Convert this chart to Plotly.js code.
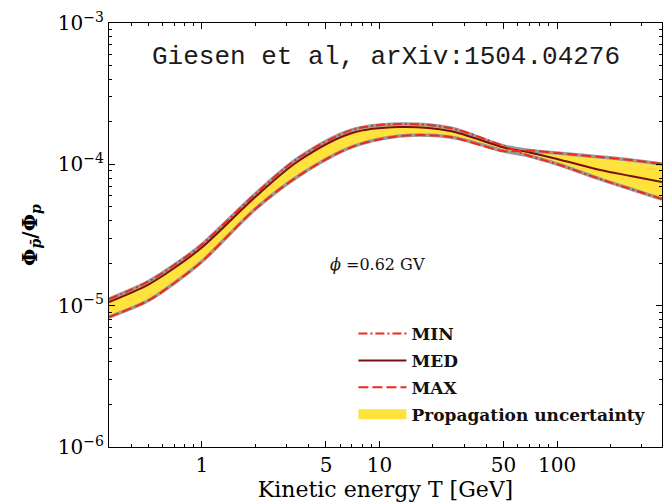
<!DOCTYPE html>
<html>
<head>
<meta charset="utf-8">
<script src="https://cdn.plot.ly/plotly-3.0.1.min.js"></script>
<style>
  html, body { margin: 0; padding: 0; background: #fff; }
  #chart { width: 663px; height: 504px; }
</style>
</head>
<body>
<div id="chart"></div>
<script>
// ---- data ----
const energyT  = [0.3, 0.5, 0.7, 1, 2, 3.5, 7, 13, 25, 50, 70, 100, 175, 260, 390];
const ratioMED = [1.062e-5, 1.411e-5, 1.847e-5, 2.579e-5, 5.87e-5, 1.056e-4, 1.667e-4, 1.837e-4, 1.721e-4, 1.315e-4, 1.213e-4, 1.091e-4, 9.12e-5, 8.27e-5, 7.50e-5];
const ratioMAX = [8.31e-6, 1.088e-5, 1.446e-5, 2.053e-5, 4.83e-5, 8.27e-5, 1.327e-4, 1.585e-4, 1.561e-4, 1.242e-4, 1.253e-4, 1.203e-4, 1.127e-4, 1.073e-4, 1.005e-4];
const ratioMIN = [1.114e-5, 1.482e-5, 1.940e-5, 2.708e-5, 6.166e-5, 1.109e-4, 1.75e-4, 1.93e-4, 1.807e-4, 1.348e-4, 1.145e-4, 1.005e-4, 7.87e-5, 6.69e-5, 5.68e-5];
const bandHigh = [1.114e-5, 1.482e-5, 1.940e-5, 2.708e-5, 6.166e-5, 1.109e-4, 1.75e-4, 1.93e-4, 1.807e-4, 1.348e-4, 1.253e-4, 1.203e-4, 1.127e-4, 1.073e-4, 1.005e-4];
const bandLow  = [8.31e-6, 1.088e-5, 1.446e-5, 2.053e-5, 4.83e-5, 8.27e-5, 1.327e-4, 1.585e-4, 1.561e-4, 1.242e-4, 1.145e-4, 1.005e-4, 7.87e-5, 6.69e-5, 5.68e-5];

const xTickVals = [1, 5, 10, 50, 100];
const xTickText = ['1', '5', '10', '50', '100'];
const xMinorTicks = [0.4, 0.5, 0.6, 0.7, 0.8, 0.9, 2, 3, 4, 6, 7, 8, 9, 20, 30, 40, 60, 70, 80, 90, 200, 300];
const yTickVals = [1e-6, 1e-5, 1e-4, 1e-3];
const yTickText = ['10<sup>−6</sup>', '10<sup>−5</sup>', '10<sup>−4</sup>', '10<sup>−3</sup>'];
const yMinorTicks = [2e-6,3e-6,4e-6,5e-6,6e-6,7e-6,8e-6,9e-6,2e-5,3e-5,4e-5,5e-5,6e-5,7e-5,8e-5,9e-5,2e-4,3e-4,4e-4,5e-4,6e-4,7e-4,8e-4,9e-4];

const legendNames = ['MIN', 'MED', 'MAX', 'Propagation uncertainty'];

const RED = '#f2281c';
const DARKRED = '#7a1010';
const YELLOW = '#ffe23c';
const GREY = '#9a9a9a';
const SERIF = 'DejaVu Serif, serif';
const SM = 0.9;

const traces = [
  { x: energyT, y: bandLow, mode: 'lines', line: { width: 0, shape: 'spline', smoothing: SM }, showlegend: false, hoverinfo: 'skip' },
  { x: energyT, y: bandHigh, mode: 'lines', fill: 'tonexty', fillcolor: YELLOW,
    line: { width: 0, shape: 'spline', smoothing: SM, color: YELLOW }, showlegend: false },
  { x: energyT, y: bandLow, mode: 'lines', line: { width: 3.5, color: GREY, shape: 'spline', smoothing: SM }, showlegend: false },
  { x: energyT, y: bandHigh, mode: 'lines', line: { width: 3.5, color: GREY, shape: 'spline', smoothing: SM }, showlegend: false },
  { x: energyT, y: ratioMED, mode: 'lines', name: legendNames[1], legendrank: 2, legendgroup: 'b',
    line: { color: DARKRED, width: 2, shape: 'spline', smoothing: SM } },
  { x: energyT, y: ratioMIN, mode: 'lines', name: legendNames[0], legendrank: 1, legendgroup: 'a',
    line: { color: RED, width: 2, shape: 'spline', smoothing: SM, dash: '9px,3px,2px,3px' } },
  { x: energyT, y: ratioMAX, mode: 'lines', name: legendNames[2], legendrank: 3, legendgroup: 'c',
    line: { color: RED, width: 2, shape: 'spline', smoothing: SM, dash: '10px,4px' } },
  // legend key for the uncertainty band (a thick yellow bar, as in the reference)
  { x: [null], y: [null], mode: 'lines', name: legendNames[3], legendrank: 4, legendgroup: 'd',
    line: { color: YELLOW, width: 12 } }
];

const axisCommon = {
  type: 'log', ticks: 'inside', ticklen: 6, tickwidth: 1, tickcolor: '#000',
  showline: true, linecolor: '#000', linewidth: 1.2, mirror: 'ticks',
  showgrid: false, zeroline: false,
  tickfont: { family: SERIF, size: 20, color: '#000' }
};

const layout = {
  width: 663, height: 504,
  margin: { l: 109, r: 1, t: 23, b: 57 },
  paper_bgcolor: '#fff', plot_bgcolor: '#fff',
  showlegend: true,
  legend: {
    x: 0.442, y: 0.309, xanchor: 'left', yanchor: 'top',
    bgcolor: 'rgba(0,0,0,0)', borderwidth: 0,
    tracegroupgap: 1.8, traceorder: 'grouped', itemwidth: 48,
    font: { family: SERIF, size: 17, color: '#111', weight: 'bold' }
  },
  xaxis: Object.assign({}, axisCommon, {
    range: [Math.log10(0.3), Math.log10(390)],
    tickmode: 'array', tickvals: xTickVals, ticktext: xTickText,
    minor: { tickmode: 'array', tickvals: xMinorTicks, ticks: 'inside', ticklen: 3, tickcolor: '#000', showgrid: false },
    title: { text: 'Kinetic energy T [GeV]', font: { family: SERIF, size: 22, color: '#000' }, standoff: 4 }
  }),
  yaxis: Object.assign({}, axisCommon, {
    range: [-6, -3],
    tickmode: 'array', tickvals: yTickVals, ticktext: yTickText,
    minor: { tickmode: 'array', tickvals: yMinorTicks, ticks: 'inside', ticklen: 3, tickcolor: '#000', showgrid: false },
    title: { text: '<b>Φ<sub><i>p\u0304</i></sub>/Φ<sub><i>p</i></sub></b>', font: { family: SERIF, size: 20, color: '#000' }, standoff: 14 }
  }),
  annotations: [
    { text: 'Giesen et al, arXiv:1504.04276', xref: 'paper', yref: 'paper', x: 0.5, y: 0.92,
      xanchor: 'center', yanchor: 'middle', showarrow: false,
      font: { family: 'Liberation Mono, monospace', size: 26, color: '#1a1a1a' } },
    { text: '<i>ϕ</i> =0.62 GV', xref: 'paper', yref: 'paper', x: 0.486, y: 0.43,
      xanchor: 'center', yanchor: 'middle', showarrow: false,
      font: { family: SERIF, size: 16, color: '#111' } }
  ]
};

Plotly.newPlot('chart', traces, layout, { displayModeBar: false, staticPlot: true });
</script>
</body>
</html>
